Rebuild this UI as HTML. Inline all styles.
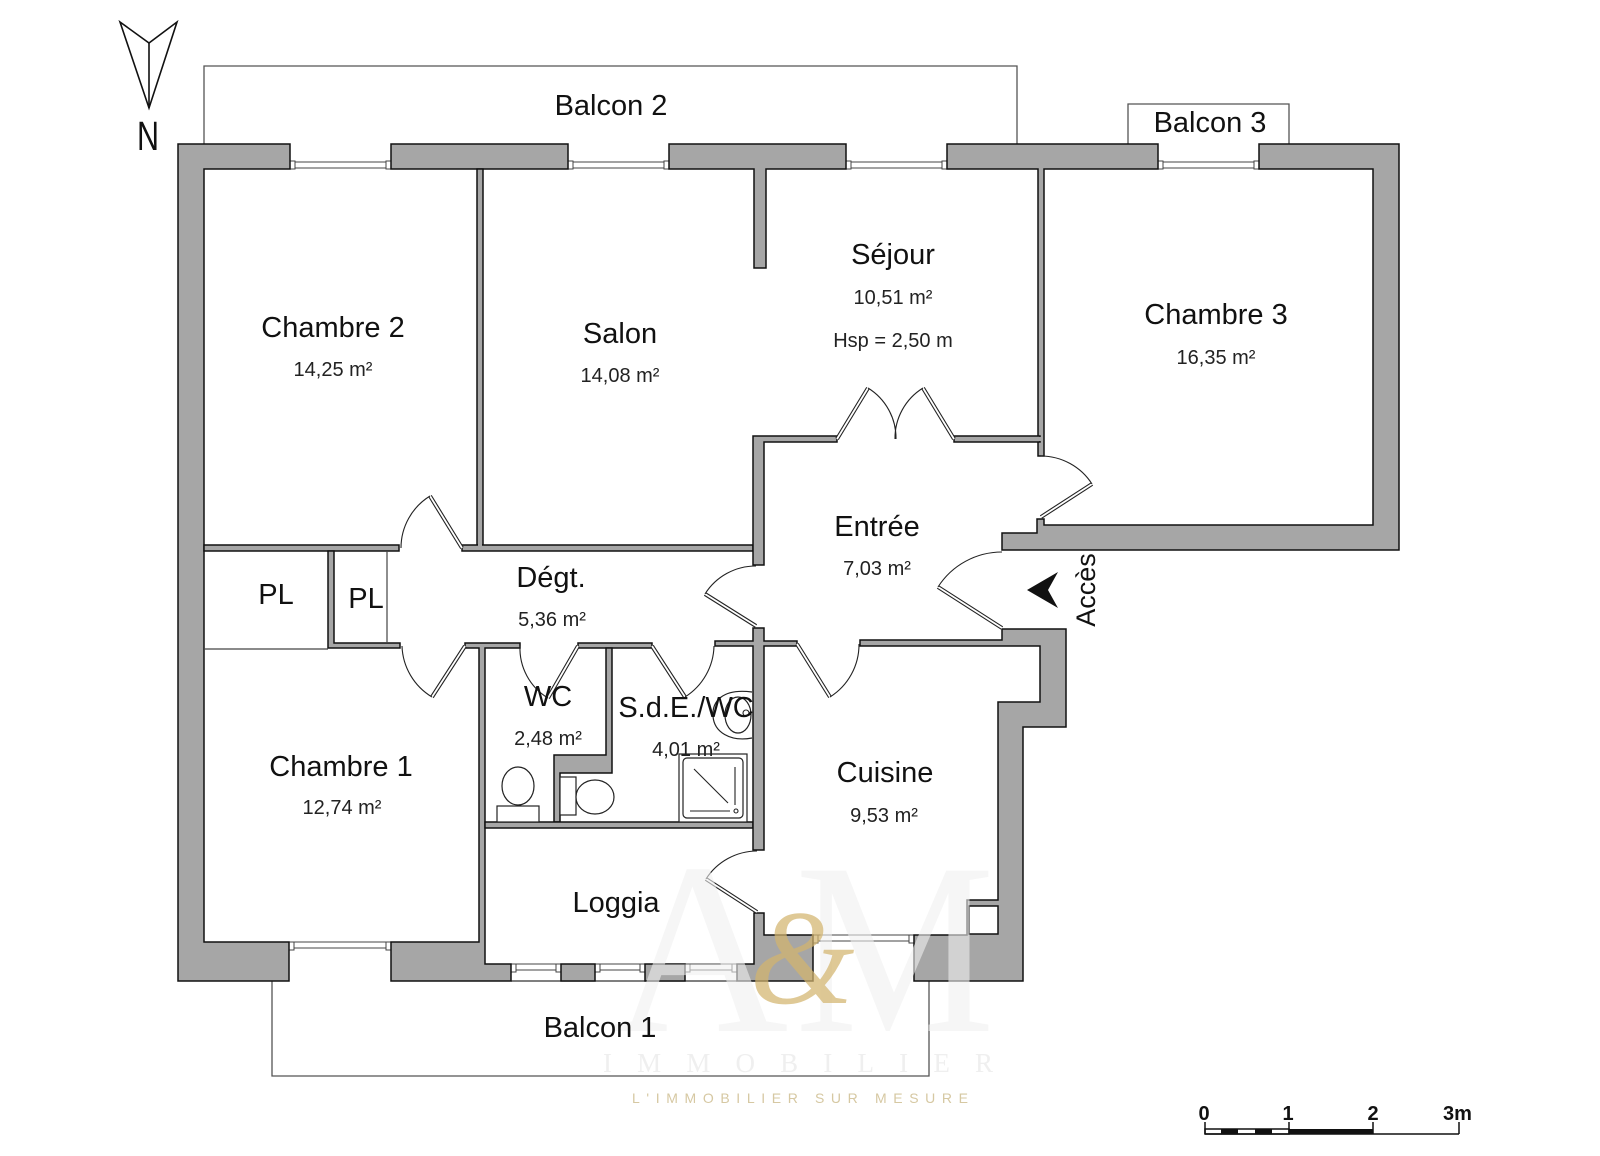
<!DOCTYPE html>
<html><head><meta charset="utf-8">
<style>
html,body{margin:0;padding:0;background:#fff;}
svg{display:block;}
text{font-family:"Liberation Sans",Arial,sans-serif;}
</style></head><body>
<svg width="1600" height="1156" viewBox="0 0 1600 1156" xmlns="http://www.w3.org/2000/svg">
<rect width="1600" height="1156" fill="#fff"/>

<!-- balconies -->
<g fill="none" stroke="#555" stroke-width="1.3">
<polyline points="204,144 204,66 1017,66 1017,144"/>
<polyline points="1128,144 1128,104 1289,104 1289,144"/>
<polyline points="272,981 272,1076 929,1076 929,981"/>
</g>

<!-- windows -->
<g fill="#fff" stroke="#444" stroke-width="1">
<rect x="290" y="162" width="101" height="6"/><rect x="290" y="161" width="5" height="8"/><rect x="386" y="161" width="5" height="8"/>
<rect x="568" y="162" width="101" height="6"/><rect x="568" y="161" width="5" height="8"/><rect x="664" y="161" width="5" height="8"/>
<rect x="846" y="162" width="101" height="6"/><rect x="846" y="161" width="5" height="8"/><rect x="942" y="161" width="5" height="8"/>
<rect x="1158" y="162" width="101" height="6"/><rect x="1158" y="161" width="5" height="8"/><rect x="1254" y="161" width="5" height="8"/>
<rect x="289" y="942" width="102" height="6"/><rect x="289" y="942" width="5" height="8"/><rect x="386" y="942" width="5" height="8"/>
<rect x="511" y="964" width="50" height="6"/><rect x="511" y="964" width="5" height="8"/><rect x="556" y="964" width="5" height="8"/>
<rect x="595" y="964" width="50" height="6"/><rect x="595" y="964" width="5" height="8"/><rect x="640" y="964" width="5" height="8"/>
<rect x="685" y="964" width="52" height="6"/><rect x="685" y="964" width="5" height="8"/><rect x="732" y="964" width="5" height="8"/>
<rect x="813" y="935" width="101" height="6"/><rect x="813" y="935" width="5" height="8"/><rect x="909" y="935" width="5" height="8"/>
</g>
<line x1="511" y1="981" x2="737" y2="981" stroke="#333" stroke-width="1.2"/>

<!-- walls -->
<g fill="#a6a6a6" stroke="#111" stroke-width="1.5" stroke-linejoin="miter">
<polygon points="178,144 290,144 290,169 204,169 204,942 289,942 289,981 178,981"/>
<rect x="391" y="144" width="177" height="25"/>
<polygon points="669,144 846,144 846,169 766,169 766,268 754,268 754,169 669,169"/>
<polygon points="947,144 1158,144 1158,169 1044,169 1044,456 1038,456 1038,169 947,169"/>
<rect x="954" y="436" width="86" height="6"/>
<polygon points="1259,144 1399,144 1399,550 1002,550 1002,533 1037,533 1037,519 1044,519 1044,525 1373,525 1373,169 1259,169"/>
<rect x="477" y="169" width="6" height="376"/>
<rect x="204" y="545" width="195" height="6"/>
<rect x="462" y="545" width="291" height="6"/>
<polygon points="753,436 837,436 837,442 764,442 764,565 753,565"/>
<polygon points="328,551 334,551 334,643 400,643 400,648 328,648"/>
<polygon points="465,643 520,643 520,648 485,648 485,964 511,964 511,981 391,981 391,942 479,942 479,648 465,648"/>
<rect x="578" y="643" width="74" height="5"/>
<polygon points="606,648 612,648 612,773 560,773 560,822 554,822 554,755 606,755"/>
<rect x="485" y="822" width="268" height="6"/>
<polygon points="715,641 753,641 753,628 764,628 764,641 797,641 797,646 764,646 764,850 753,850 753,646 715,646"/>
<polygon points="860,640 1002,640 1002,629 1066,629 1066,727 1023,727 1023,981 914,981 914,935 967,935 967,900 998,900 998,702 1040,702 1040,646 860,646"/>
<rect x="561" y="964" width="34" height="17"/>
<rect x="645" y="964" width="40" height="17"/>
<polygon points="737,964 754,964 754,913 764,913 764,935 813,935 813,981 737,981"/>
</g>
<rect x="969" y="906" width="29" height="28" fill="#fff" stroke="#111" stroke-width="1.5"/>
<g fill="#a6a6a6">
<rect x="1039" y="437" width="4" height="4"/>
<rect x="478" y="544" width="4" height="3"/>
<rect x="754" y="823" width="3" height="4"/>
</g>

<!-- thin lines (closets) -->
<g stroke="#444" stroke-width="1.2" fill="none">
<line x1="204" y1="649" x2="328" y2="649"/>
<line x1="387" y1="551" x2="387" y2="643"/>
</g>

<!-- doors: leaves -->
<g stroke-linecap="butt">
<g stroke="#222" stroke-width="4">
<line x1="462" y1="548" x2="430" y2="496"/>
<line x1="465" y1="646" x2="432" y2="697"/>
<line x1="578" y1="646" x2="548" y2="698"/>
<line x1="652" y1="646" x2="685" y2="697"/>
<line x1="756" y1="626" x2="705" y2="594"/>
<line x1="797" y1="644" x2="830" y2="697"/>
<line x1="757" y1="912" x2="706" y2="879"/>
<line x1="1002" y1="628" x2="938" y2="587"/>
<line x1="1041" y1="517" x2="1092" y2="484"/>
<line x1="837" y1="439" x2="868" y2="388"/>
<line x1="954" y1="439" x2="923" y2="388"/>
</g>
<g stroke="#fff" stroke-width="1.8">
<line x1="462" y1="548" x2="430" y2="496"/>
<line x1="465" y1="646" x2="432" y2="697"/>
<line x1="578" y1="646" x2="548" y2="698"/>
<line x1="652" y1="646" x2="685" y2="697"/>
<line x1="756" y1="626" x2="705" y2="594"/>
<line x1="797" y1="644" x2="830" y2="697"/>
<line x1="757" y1="912" x2="706" y2="879"/>
<line x1="1002" y1="628" x2="938" y2="587"/>
<line x1="1041" y1="517" x2="1092" y2="484"/>
<line x1="837" y1="439" x2="868" y2="388"/>
<line x1="954" y1="439" x2="923" y2="388"/>
</g>
</g>
<!-- doors: arcs -->
<g fill="none" stroke="#222" stroke-width="1.1">
<path d="M430,496 A61,61 0 0 0 401,548"/>
<path d="M432,697 A62,62 0 0 1 402,646"/>
<path d="M548,698 A58,58 0 0 1 520,646"/>
<path d="M685,697 A62,62 0 0 0 714,646"/>
<path d="M705,594 A60,60 0 0 1 756,566"/>
<path d="M830,697 A62,62 0 0 0 859,644"/>
<path d="M706,879 A61,61 0 0 1 757,851"/>
<path d="M938,587 A76,76 0 0 1 1002,552"/>
<path d="M1092,484 A61,61 0 0 0 1041,456"/>
<path d="M868,388 A59,59 0 0 1 896,439"/>
<path d="M923,388 A59,59 0 0 0 895,439"/>
</g>

<!-- fixtures -->
<g fill="#fff" stroke="#222" stroke-width="1.2">
<ellipse cx="518" cy="786" rx="16" ry="19"/>
<rect x="497" y="806" width="42" height="16"/>
<rect x="560" y="777" width="16" height="38"/>
<ellipse cx="595" cy="797" rx="19" ry="17"/>
<rect x="679" y="754" width="68" height="68"/>
<rect x="683" y="758" width="60" height="60" rx="4"/>
<path d="M752,692 C722,688 712,702 713,716 C714,732 730,742 752,738" />
<ellipse cx="738" cy="715" rx="13" ry="18"/>
</g>
<g stroke="#222" stroke-width="1.1" fill="none">
<line x1="694" y1="769" x2="728" y2="803"/>
<line x1="690" y1="811" x2="730" y2="811"/>
<line x1="735" y1="767" x2="735" y2="805"/>
<circle cx="736" cy="811" r="2"/>
<circle cx="746" cy="713" r="3"/>
</g>

<!-- watermark -->
<g>
<text x="700" y="1031" font-size="245" fill="#f0f0f0" fill-opacity="0.6" text-anchor="middle" style="font-family:'Liberation Serif',serif">A</text>
<text x="895" y="1031" font-size="245" fill="#f0f0f0" fill-opacity="0.6" text-anchor="middle" textLength="200" lengthAdjust="spacingAndGlyphs" style="font-family:'Liberation Serif',serif">M</text>
<text x="802" y="1003" font-size="135" fill="#d2b46e" fill-opacity="0.72" text-anchor="middle" font-style="italic" style="font-family:'Liberation Serif',serif">&amp;</text>
<text x="603" y="1072" font-size="27" fill="#efefef" textLength="390" lengthAdjust="spacing" style="font-family:'Liberation Serif',serif">IMMOBILIER</text>
<text x="632" y="1103" font-size="14" fill="#d6c8a2" textLength="336" lengthAdjust="spacing">L'IMMOBILIER SUR MESURE</text>
</g>

<!-- north arrow -->
<g fill="none" stroke="#111" stroke-width="1.6" stroke-linejoin="miter">
<polygon points="120,22 149,43 177,22 149,108"/>
<line x1="149" y1="43" x2="149" y2="108"/>
</g>
<text x="137" y="150" font-size="41" fill="#111" textLength="22" lengthAdjust="spacingAndGlyphs">N</text>

<!-- labels -->
<g fill="#111" font-size="29" text-anchor="middle">
<text x="611" y="115">Balcon 2</text>
<text x="1210" y="132">Balcon 3</text>
<text x="333" y="337">Chambre 2</text>
<text x="620" y="343">Salon</text>
<text x="893" y="264">Séjour</text>
<text x="1216" y="324">Chambre 3</text>
<text x="877" y="536">Entrée</text>
<text x="551" y="587">Dégt.</text>
<text x="276" y="604">PL</text>
<text x="366" y="608">PL</text>
<text x="548" y="706">WC</text>
<text x="686" y="717">S.d.E./WC</text>
<text x="341" y="776">Chambre 1</text>
<text x="885" y="782">Cuisine</text>
<text x="616" y="912">Loggia</text>
<text x="600" y="1037">Balcon 1</text>
</g>
<g fill="#222" font-size="20" text-anchor="middle">
<text x="333" y="376">14,25 m²</text>
<text x="620" y="382">14,08 m²</text>
<text x="893" y="304">10,51 m²</text>
<text x="893" y="347">Hsp = 2,50 m</text>
<text x="1216" y="364">16,35 m²</text>
<text x="877" y="575">7,03 m²</text>
<text x="552" y="626">5,36 m²</text>
<text x="548" y="745">2,48 m²</text>
<text x="686" y="756">4,01 m²</text>
<text x="342" y="814">12,74 m²</text>
<text x="884" y="822">9,53 m²</text>
</g>

<!-- Accès -->
<polygon points="1027,590 1058,572 1048,590 1058,608" fill="#111"/>
<text x="0" y="0" font-size="27" fill="#111" text-anchor="middle" transform="translate(1095,590) rotate(-90)">Accès</text>

<!-- scale bar -->
<g font-size="20" font-weight="bold" fill="#111" text-anchor="middle">
<text x="1204" y="1120">0</text>
<text x="1288" y="1120">1</text>
<text x="1373" y="1120">2</text>
<text x="1443" y="1120" text-anchor="start">3m</text>
</g>
<g stroke="#111" stroke-width="1.5" fill="none">
<rect x="1205" y="1129" width="84" height="5" fill="#fff"/>
<line x1="1205" y1="1134" x2="1459" y2="1134"/>
<line x1="1205" y1="1122" x2="1205" y2="1134"/>
<line x1="1289" y1="1122" x2="1289" y2="1134"/>
<line x1="1373" y1="1122" x2="1373" y2="1134"/>
<line x1="1459" y1="1122" x2="1459" y2="1134"/>
</g>
<g fill="#111">
<rect x="1221" y="1129" width="17" height="5"/>
<rect x="1255" y="1129" width="17" height="5"/>
<rect x="1289" y="1129" width="84" height="5"/>
</g>
</svg>
</body></html>
